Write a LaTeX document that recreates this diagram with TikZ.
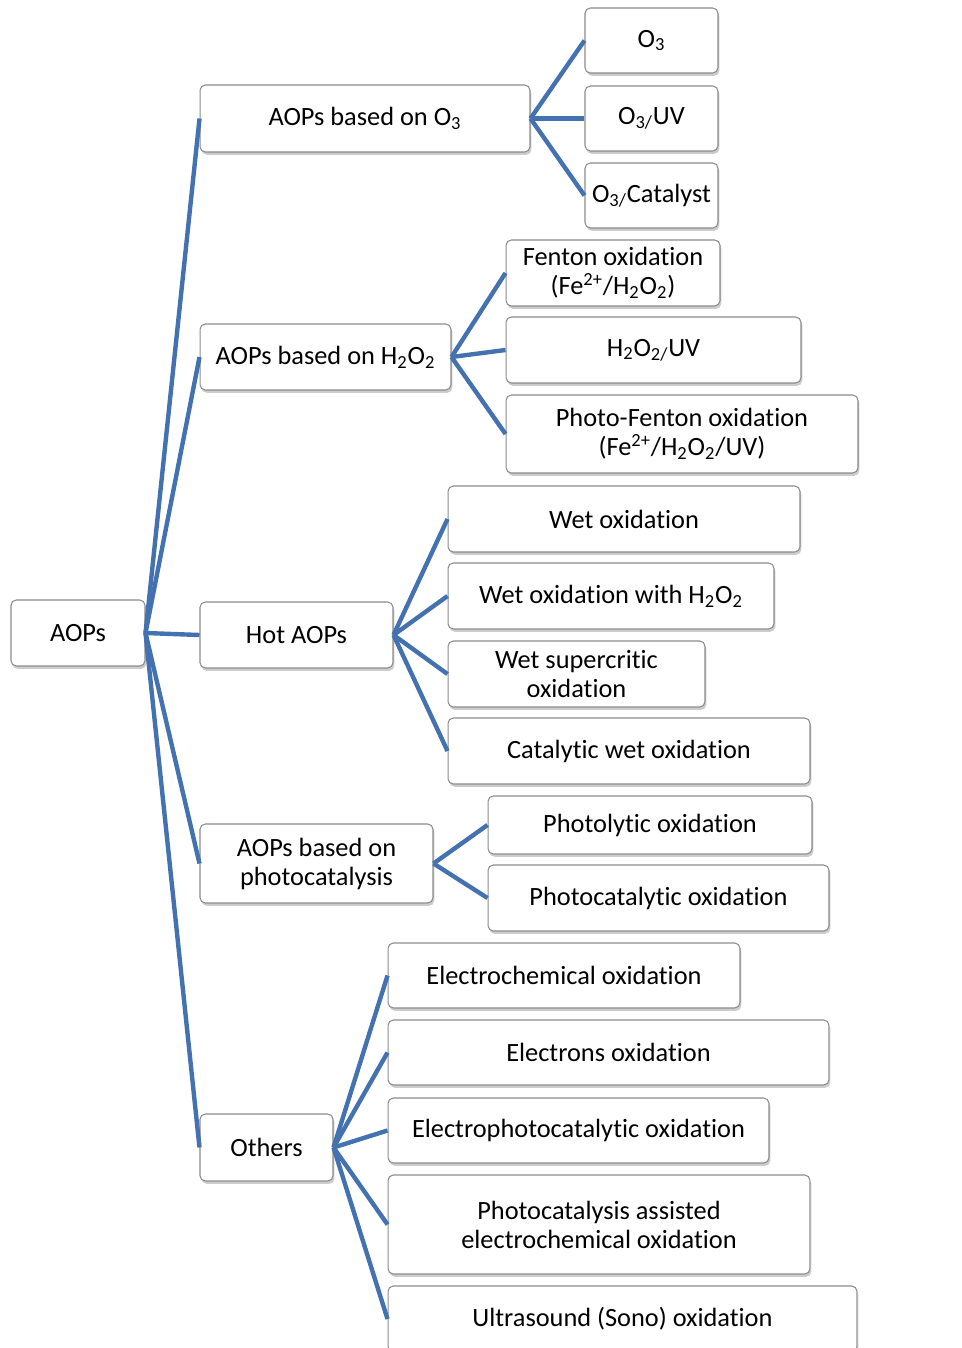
\documentclass[tikz,border=0pt]{standalone}
\usepackage{fontspec}
\setmainfont{Carlito}[Ligatures=NoCommon]
\usetikzlibrary{shadows}
\definecolor{linkblue}{RGB}{68,114,176}
\definecolor{boxgray}{RGB}{140,140,140}

\begin{document}
\begin{tikzpicture}[x=0.02cm, y=-0.02cm,
  box/.style={draw=boxgray, line width=0.6pt, rounded corners=3pt, fill=white, align=center, inner sep=2pt,
    font=\fontsize{15}{16.5}\selectfont,
    drop shadow={shadow xshift=0.8pt, shadow yshift=-1.6pt, fill=black!40, opacity=0.5}},
  link/.style={draw=linkblue, line width=2.5pt}]
\useasboundingbox (0,0) rectangle (961,1348);

\node[box, minimum width=2.68cm, minimum height=1.32cm] (aops) at (78,633) {AOPs};

\node[box, minimum width=6.6cm, minimum height=1.34cm] (o3grp) at (365,118.5) {AOPs based on O\textsubscript{3}};
\node[box, minimum width=5.02cm, minimum height=1.32cm] (hgrp) at (325.5,357) {AOPs based on H\textsubscript{2}O\textsubscript{2}};
\node[box, minimum width=3.86cm, minimum height=1.32cm] (hot) at (296.5,635) {Hot AOPs};
\node[box, minimum width=4.66cm, minimum height=1.58cm] (photo) at (316.5,863.5) {AOPs based on\\photocatalysis};
\node[box, minimum width=2.66cm, minimum height=1.34cm] (others) at (266.5,1147.5) {Others};

\node[box, minimum width=2.66cm, minimum height=1.3cm] (o3) at (651.5,40.5) {O\textsubscript{3}};
\node[box, minimum width=2.66cm, minimum height=1.3cm] (o3uv) at (651.5,118.5) {O\textsubscript{3/}UV};
\node[box, minimum width=2.66cm, minimum height=1.3cm] (o3cat) at (651.5,195.5) {O\textsubscript{3/}Catalyst};

\node[box, minimum width=4.28cm, minimum height=1.32cm] (fenton) at (613,273) {Fenton oxidation\\(Fe\textsuperscript{2+}/H\textsubscript{2}O\textsubscript{2})};
\node[box, minimum width=5.9cm, minimum height=1.32cm] (h2o2uv) at (653.5,350) {H\textsubscript{2}O\textsubscript{2/}UV};
\node[box, minimum width=7.04cm, minimum height=1.56cm] (pfenton) at (682,434) {Photo-Fenton oxidation\\(Fe\textsuperscript{2+}/H\textsubscript{2}O\textsubscript{2}/UV)};

\node[box, minimum width=7.04cm, minimum height=1.32cm] (wet) at (624,519) {Wet oxidation};
\node[box, minimum width=6.52cm, minimum height=1.32cm] (weth) at (611,596) {Wet oxidation with H\textsubscript{2}O\textsubscript{2}};
\node[box, minimum width=5.14cm, minimum height=1.32cm] (wetsc) at (576.5,674) {Wet supercritic\\oxidation};
\node[box, minimum width=7.24cm, minimum height=1.32cm] (catwet) at (629,751) {Catalytic wet oxidation};

\node[box, minimum width=6.48cm, minimum height=1.16cm] (photol) at (650,825) {Photolytic oxidation};
\node[box, minimum width=6.82cm, minimum height=1.32cm] (photoc) at (658.5,898) {Photocatalytic oxidation};

\node[box, minimum width=7.04cm, minimum height=1.3cm] (echem) at (564,975.5) {Electrochemical oxidation};
\node[box, minimum width=8.82cm, minimum height=1.3cm] (electrons) at (608.5,1052.5) {Electrons oxidation};
\node[box, minimum width=7.62cm, minimum height=1.3cm] (ephoto) at (578.5,1130.5) {Electrophotocatalytic oxidation};
\node[box, minimum width=8.44cm, minimum height=1.98cm] (pcassist) at (599,1224.5) {Photocatalysis assisted\\electrochemical oxidation};
\node[box, minimum width=9.38cm, minimum height=1.32cm] (sono) at (622.5,1319) {Ultrasound (Sono) oxidation};

\foreach \c in {o3grp,hgrp,hot,photo,others}
  \draw[link] (aops.east) -- (\c.west);
\foreach \c in {o3,o3uv,o3cat}
  \draw[link] (o3grp.east) -- (\c.west);
\foreach \c in {fenton,h2o2uv,pfenton}
  \draw[link] (hgrp.east) -- (\c.west);
\foreach \c in {wet,weth,wetsc,catwet}
  \draw[link] (hot.east) -- (\c.west);
\foreach \c in {photol,photoc}
  \draw[link] (photo.east) -- (\c.west);
\foreach \c in {echem,electrons,ephoto,pcassist,sono}
  \draw[link] (others.east) -- (\c.west);
\end{tikzpicture}
\end{document}
